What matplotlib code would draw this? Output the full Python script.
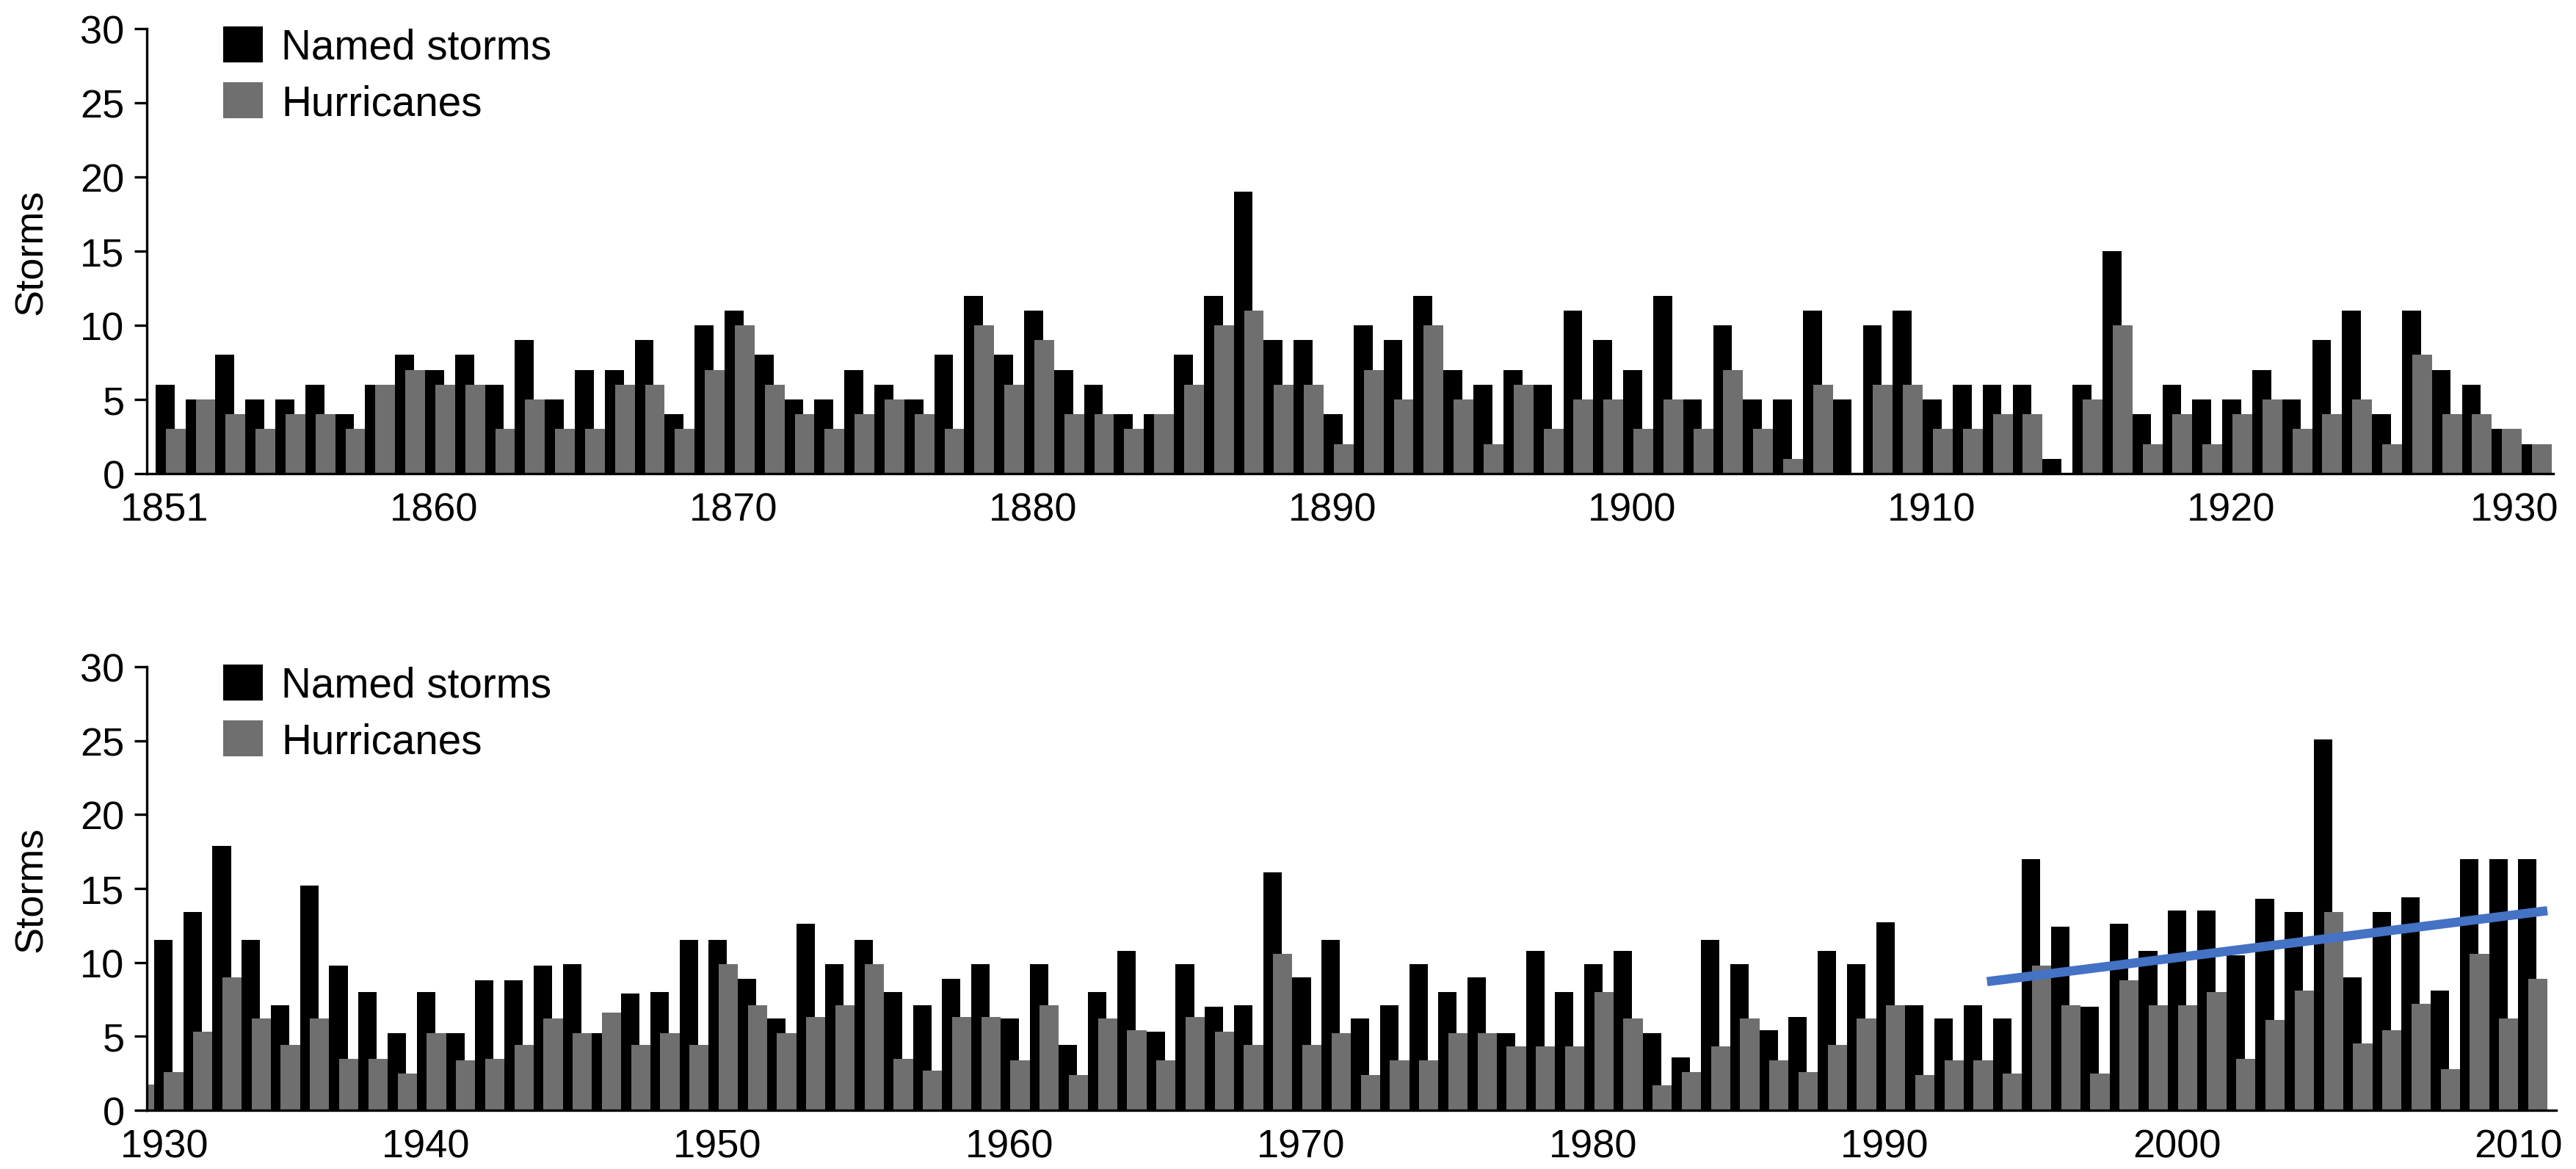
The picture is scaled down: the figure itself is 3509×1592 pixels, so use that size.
import numpy as np
import matplotlib
matplotlib.use("Agg")
import matplotlib.pyplot as plt
from matplotlib.patches import Patch

plt.rcParams['font.family'] = ['Liberation Sans', 'DejaVu Sans']

# ---- data ----
years_top = np.arange(1851, 1931)
named_top = [6, 5, 8, 5, 5, 6, 4, 6, 8, 7,
             8, 6, 9, 5, 7, 7, 9, 4, 10, 11,
             8, 5, 5, 7, 6, 5, 8, 12, 8, 11,
             7, 6, 4, 4, 8, 12, 19, 9, 9, 4,
             10, 9, 12, 7, 6, 7, 6, 11, 9, 7,
             12, 5, 10, 5, 5, 11, 5, 10, 11, 5,
             6, 6, 6, 1, 6, 15, 4, 6, 5, 5,
             7, 5, 9, 11, 4, 11, 7, 6, 3, 2]
hurr_top = [3, 5, 4, 3, 4, 4, 3, 6, 7, 6,
            6, 3, 5, 3, 3, 6, 6, 3, 7, 10,
            6, 4, 3, 4, 5, 4, 3, 10, 6, 9,
            4, 4, 3, 4, 6, 10, 11, 6, 6, 2,
            7, 5, 10, 5, 2, 6, 3, 5, 5, 3,
            5, 3, 7, 3, 1, 6, 0, 6, 6, 3,
            3, 4, 4, 0, 5, 10, 2, 4, 2, 4,
            5, 3, 4, 5, 2, 8, 4, 4, 3, 2]

years_bot = np.arange(1930, 2013)
named_bot = [1.8, 11.5, 13.4, 17.9, 11.5, 7.1, 15.2, 9.8, 8.0, 5.2,
             8.0, 5.2, 8.8, 8.8, 9.8, 9.9, 5.2, 7.9, 8.0, 11.5,
             11.5, 8.9, 6.2, 12.6, 9.9, 11.5, 8.0, 7.1, 8.9, 9.9,
             6.2, 9.9, 4.4, 8.0, 10.8, 5.3, 9.9, 7.0, 7.1, 16.1,
             9.0, 11.5, 6.2, 7.1, 9.9, 8.0, 9.0, 5.2, 10.8, 8.0,
             9.9, 10.8, 5.2, 3.6, 11.5, 9.9, 5.4, 6.3, 10.8, 9.9,
             12.7, 7.1, 6.2, 7.1, 6.2, 17.0, 12.4, 7.0, 12.6, 10.8,
             13.5, 13.5, 10.5, 14.3, 13.4, 25.1, 9.0, 13.4, 14.4, 8.1,
             17.0, 17.0, 17.0]
hurr_bot = [1.75, 2.6, 5.3, 9.0, 6.2, 4.4, 6.2, 3.5, 3.5, 2.5,
            5.2, 3.4, 3.5, 4.4, 6.2, 5.2, 6.6, 4.4, 5.2, 4.4,
            9.9, 7.1, 5.2, 6.3, 7.1, 9.9, 3.5, 2.7, 6.3, 6.3,
            3.4, 7.1, 2.4, 6.2, 5.4, 3.4, 6.3, 5.3, 4.4, 10.6,
            4.4, 5.2, 2.4, 3.4, 3.4, 5.2, 5.2, 4.3, 4.3, 4.3,
            8.0, 6.2, 1.7, 2.6, 4.3, 6.2, 3.4, 2.6, 4.4, 6.2,
            7.1, 2.4, 3.4, 3.4, 2.5, 9.8, 7.1, 2.5, 8.8, 7.1,
            7.1, 8.0, 3.5, 6.1, 8.1, 13.4, 4.5, 5.4, 7.2, 2.8,
            10.6, 6.2, 8.9]

# trend line drawn over recent named storms
trend_x = [1993.3, 2012.5]
trend_y = [8.7, 13.5]

tick_years_top = [1851, 1860, 1870, 1880, 1890, 1900, 1910, 1920, 1930]
tick_years_bot = [1930, 1940, 1950, 1960, 1970, 1980, 1990, 2000, 2010]
labels = ["Named storms", "Hurricanes"]

# ---- style ----
BLACK = "#000000"
GREY = "#6f6f6f"
BLUE = "#4472c4"
FS = 13
W, H = 3509, 1593


def panel(ax, years, named, hurr, xlim, tick_years):
    years = np.asarray(years)
    ax.bar(years - 0.5, named, width=0.63, align="edge", color=BLACK,
           linewidth=0)
    ax.bar(years - 0.16, hurr, width=0.66, align="edge", color=GREY,
           linewidth=0)
    ax.set_xlim(*xlim)
    ax.set_ylim(0, 30)
    ax.set_yticks(range(0, 31, 5))
    for s in ("top", "right"):
        ax.spines[s].set_visible(False)
    for s in ("left", "bottom"):
        ax.spines[s].set_linewidth(0.8)
    ax.tick_params(axis="y", length=4.1, width=0.8, pad=3.2, labelsize=FS)
    ax.tick_params(axis="x", length=0, pad=5.8, labelsize=FS)
    pos = np.asarray(tick_years, dtype=float) - 0.2
    pos[0] = max(pos[0], xlim[0] + 0.6)
    pos[-1] = xlim[1] - 1.3
    ax.set_xticks(pos)
    ax.set_xticklabels([str(y) for y in tick_years])
    ax.set_ylabel("Storms", fontsize=FS, labelpad=10)
    handles = [Patch(facecolor=BLACK, edgecolor="none"),
               Patch(facecolor=GREY, edgecolor="none")]
    ax.legend(handles, labels, loc="upper left",
              bbox_to_anchor=(104 / 3278, 1.005), frameon=False,
              fontsize=13.6, handlelength=0.95, handleheight=0.95,
              handletextpad=0.45, labelspacing=0.36, borderpad=0,
              borderaxespad=0)


fig = plt.figure(figsize=(W / 300, H / 300), dpi=300)
ax1 = fig.add_axes([200 / W, 1 - 646 / H, 3278 / W, 606 / H])
ax2 = fig.add_axes([200 / W, 1 - 1513 / H, 3282 / W, 604 / H])

panel(ax1, years_top, named_top, hurr_top, (1850.21, 1930.55), tick_years_top)
panel(ax2, years_bot, named_bot, hurr_bot, (1930.25, 2012.8), tick_years_bot)
ax2.plot(trend_x, trend_y, color=BLUE, linewidth=3.0, solid_capstyle="butt")

fig.savefig("out.png", dpi=300)
